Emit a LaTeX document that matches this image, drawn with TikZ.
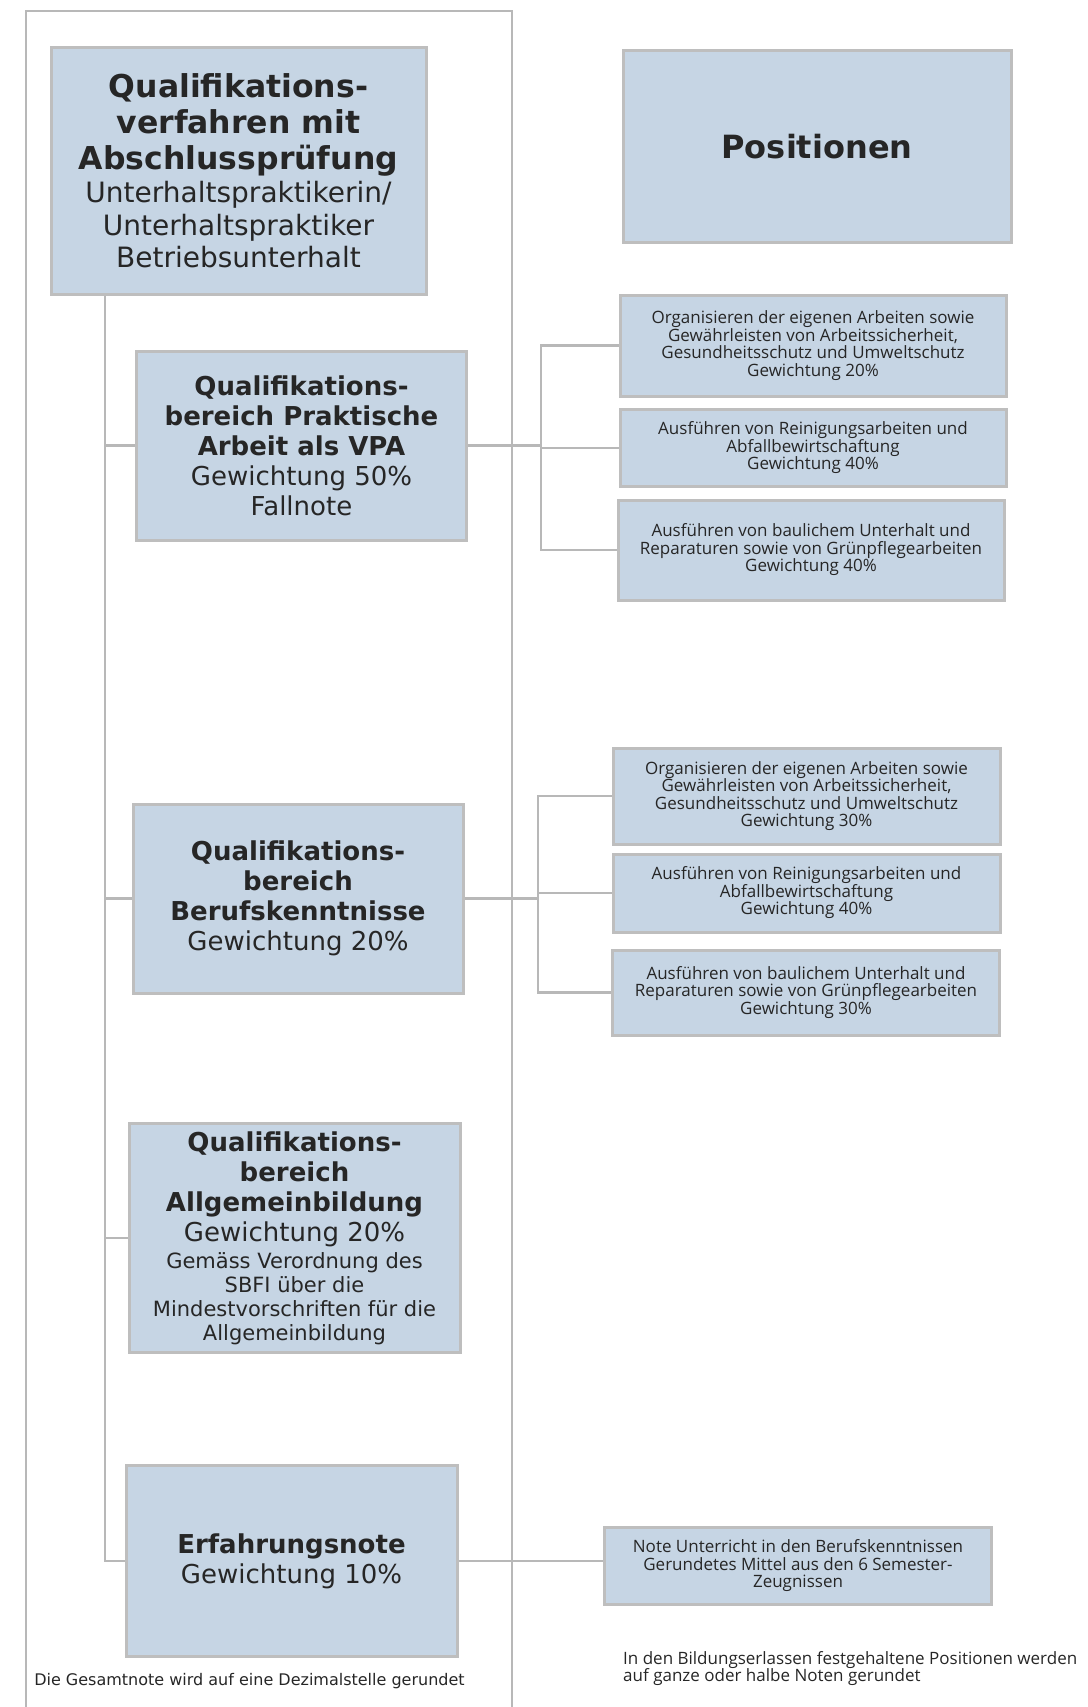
\documentclass[tikz,border=0pt]{standalone}
\usepackage{fontspec}
\setmainfont{DejaVu Sans}
\newfontfamily\posfont{Open Sans}
\usetikzlibrary{positioning}
\definecolor{boxfill}{HTML}{C6D5E4}
\definecolor{boxline}{HTML}{BEBEBE}
\definecolor{linkgray}{HTML}{B8B8B8}
\newcommand{\smallline}[1]{{\fontsize{21}{24}\selectfont #1}}
\tikzset{
  mainbox/.style={draw=boxline, line width=3pt, fill=boxfill, align=center, inner sep=0pt, text=black!85},
  leftbox/.style={mainbox, minimum width=330pt, font=\fontsize{26}{30}\selectfont},
  posbox/.style={mainbox, minimum width=386pt, font=\posfont\fontsize{17}{17.5}\selectfont},
  link/.style={draw=linkgray, line width=2.5pt},
  note/.style={align=left, inner sep=0pt, text=black!85}
}
\begin{document}
\begin{tikzpicture}[x=1pt, y=-1pt]
  \useasboundingbox (0,0) rectangle (1087,1707);
  % outer frame
  \draw[link, line width=2pt] (26,1707) -- (26,11) -- (512,11) -- (512,1707);

  \node[mainbox, minimum width=375pt, minimum height=246pt, font=\fontsize{28}{32.7}\selectfont] (qv) at (238.5,171)
    {{\fontsize{31.5}{36}\selectfont\bfseries Qualifikations-}\\[3.3pt]
     {\fontsize{31.5}{36}\selectfont\bfseries verfahren mit}\\[3.3pt]
     {\fontsize{31.5}{36}\selectfont\bfseries Abschlussprüfung}\\
     Unterhaltspraktikerin/\\Unterhaltspraktiker\\Betriebsunterhalt};
  \node[mainbox, minimum width=388pt, minimum height=191pt, font=\fontsize{32}{36}\selectfont\bfseries] (pos) at (817,146.5) {Positionen};

  % left column
  \node[leftbox, minimum height=189pt] (pa) at (301.5,445.5)
    {\textbf{Qualifikations-}\\\textbf{bereich Praktische}\\\textbf{Arbeit als VPA}\\Gewichtung 50\%\\Fallnote};
  \node[leftbox, minimum height=189pt] (bk) at (298,898.5)
    {\textbf{Qualifikations-}\\\textbf{bereich}\\\textbf{Berufskenntnisse}\\Gewichtung 20\%};
  \node[leftbox, minimum width=331pt, minimum height=229pt] (ab) at (294.5,1238)
    {\textbf{Qualifikations-}\\\textbf{bereich}\\\textbf{Allgemeinbildung}\\Gewichtung 20\%\\[-3pt]
     \smallline{Gemäss Verordnung des}\\[-6pt]\smallline{SBFI über die}\\[-6pt]
     \smallline{Mindestvorschriften für die}\\[-6pt]\smallline{Allgemeinbildung}};
  \node[leftbox, minimum width=331pt, minimum height=191pt] (en) at (291.5,1561)
    {\textbf{Erfahrungsnote}\\Gewichtung 10\%};

  % positions
  \node[posbox, minimum height=101pt] (pa1) at (813,345.5)
    {Organisieren der eigenen Arbeiten sowie\\Gewährleisten von Arbeitssicherheit,\\Gesundheitsschutz und Umweltschutz\\Gewichtung 20\%};
  \node[posbox, minimum height=77pt] (pa2) at (813,448)
    {Ausführen von Reinigungsarbeiten und\\Abfallbewirtschaftung\\Gewichtung 40\%};
  \node[posbox, minimum height=100pt] (pa3) at (811,550)
    {Ausführen von baulichem Unterhalt und\\Reparaturen sowie von Grünpflegearbeiten\\Gewichtung 40\%};
  \node[posbox, minimum width=387pt, minimum height=96pt] (bk1) at (806.5,796)
    {Organisieren der eigenen Arbeiten sowie\\Gewährleisten von Arbeitssicherheit,\\Gesundheitsschutz und Umweltschutz\\Gewichtung 30\%};
  \node[posbox, minimum width=387pt, minimum height=78pt] (bk2) at (806.5,893)
    {Ausführen von Reinigungsarbeiten und\\Abfallbewirtschaftung\\Gewichtung 40\%};
  \node[posbox, minimum width=387pt, minimum height=85pt] (bk3) at (806,992.5)
    {Ausführen von baulichem Unterhalt und\\Reparaturen sowie von Grünpflegearbeiten\\Gewichtung 30\%};
  \node[posbox, minimum width=387pt, minimum height=77pt] (en1) at (798,1566)
    {Note Unterricht in den Berufskenntnissen\\Gerundetes Mittel aus den 6 Semester-\\Zeugnissen};

  % footnotes
  \node[note, font=\fontsize{16}{18}\selectfont] (n1) at (249.5,1681) {Die Gesamtnote wird auf eine Dezimalstelle gerundet};
  \node[note, anchor=west, font=\posfont\fontsize{17}{17.5}\selectfont] (n2) at (623,1668.5)
    {In den Bildungserlassen festgehaltene Positionen werden\\auf ganze oder halbe Noten gerundet};

  % connectors
  \coordinate (spine) at (105,0);
  \coordinate (brA) at (541,0);
  \coordinate (brB) at (538,0);
  \draw[link] (qv.south -| spine) -- (en.west -| spine) -- (en.west);
  \foreach \n in {pa,bk,ab}
    \draw[link] (\n.west -| spine) -- (\n.west);
  \draw[link] (pa.east) -- (pa.east -| brA);
  \draw[link] (pa1.west) -| (brA |- pa3.west) -- (pa3.west);
  \draw[link] (pa2.west -| brA) -- (pa2.west);
  \draw[link] (bk.east) -- (bk.east -| brB);
  \draw[link] (bk1.west) -| (brB |- bk3.west) -- (bk3.west);
  \draw[link] (bk2.west -| brB) -- (bk2.west);
  \draw[link] (en.east) -- (en.east -| en1.west);
\end{tikzpicture}
\end{document}
